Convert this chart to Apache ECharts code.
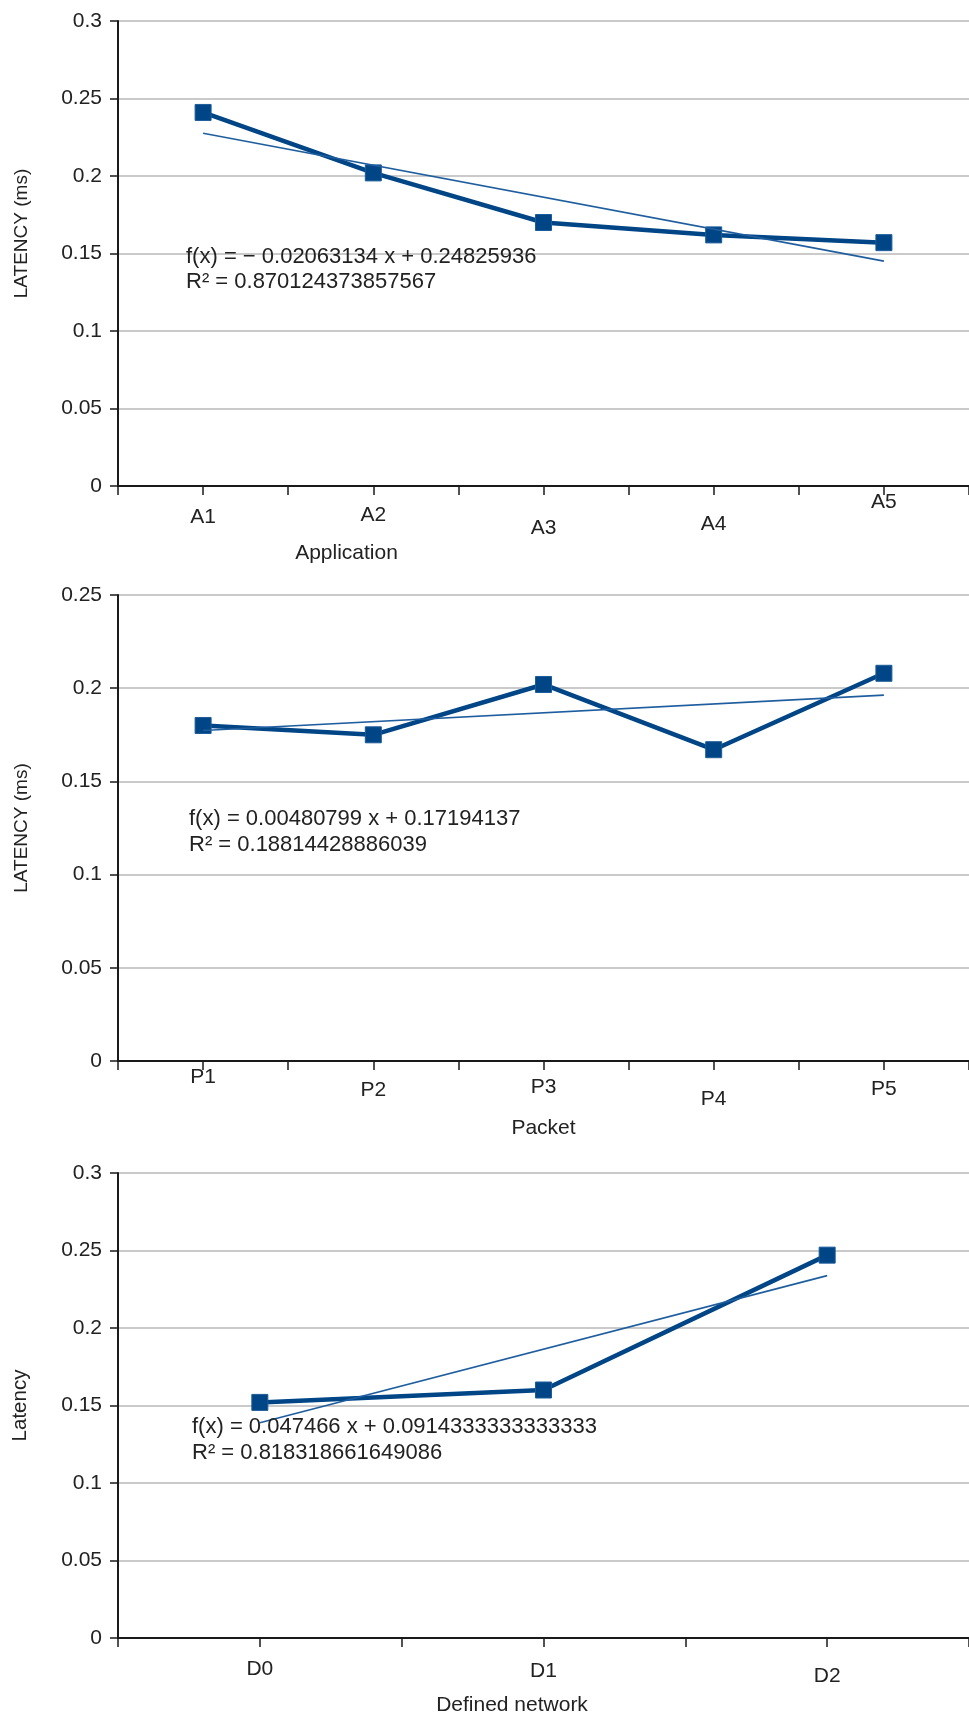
<!DOCTYPE html>
<html>
<head>
<meta charset="utf-8">
<script src="https://cdn.jsdelivr.net/npm/echarts@6/dist/echarts.min.js"></script>
<style>
html,body{margin:0;padding:0;background:#fff;}
#chart{width:969px;height:1717px;}
</style>
</head>
<body>
<div id="chart"></div>
<script>
// ---- data ----
const categoriesA = ['A1', 'A2', 'A3', 'A4', 'A5'];
const latencyA = [0.241, 0.202, 0.170, 0.162, 0.157];
const trendA = [0.2276, null, null, null, 0.1451];
const equationA = ['f(x) = \u2212 0.02063134 x + 0.24825936', 'R\u00b2 = 0.870124373857567'];

const categoriesP = ['P1', 'P2', 'P3', 'P4', 'P5'];
const latencyP = [0.180, 0.175, 0.202, 0.167, 0.208];
const trendP = [0.1773, null, null, null, 0.1963];
const equationP = ['f(x) = 0.00480799 x + 0.17194137', 'R\u00b2 = 0.18814428886039'];

const categoriesD = ['D0', 'D1', 'D2'];
const latencyD = [0.152, 0.160, 0.247];
const trendD = [0.1389, null, 0.2338];
const equationD = ['f(x) = 0.047466 x + 0.0914333333333333', 'R\u00b2 = 0.818318661649086'];

const yMaxA = 0.3, yMaxP = 0.25, yMaxD = 0.3, yStep = 0.05;

// ---- styles ----
const FONT = 'Liberation Sans';
const BLUE = '#004586';
const TXT = '#222';
const TICK_FS = 21;
const grids = [
  {left: 118, width: 859, top: 21, height: 465},
  {left: 118, width: 859, top: 595, height: 466},
  {left: 118, width: 859, top: 1173, height: 466}
];
const labelDrops = [
  [30, 26, 52, 44, 0],
  [0, 26, 20, 44, 24],
  [31, 35, 44]
];
const xNames = [
  {name: 'Application', shift: 394, gap: 57},
  {name: 'Packet', shift: 0, gap: 57},
  {name: 'Defined network', shift: 63, gap: 57}
];
const yNames = [
  {name: 'LATENCY (ms)', up: 20, fs: 19},
  {name: 'LATENCY (ms)', up: 0, fs: 19},
  {name: 'Latency', up: 0, fs: 20.5}
];

function richFor(drops) {
  const r = {};
  drops.forEach((d, i) => {
    r['o' + i] = {padding: [d, 0, 0, 0], fontSize: TICK_FS, lineHeight: 20, color: TXT, fontFamily: FONT};
  });
  return r;
}

const chart = echarts.init(document.getElementById('chart'));
const cats = [categoriesA, categoriesP, categoriesD];
const vals = [latencyA, latencyP, latencyD];
const trends = [trendA, trendP, trendD];
const maxes = [yMaxA, yMaxP, yMaxD];

const xAxis = [], yAxis = [], series = [];
for (let g = 0; g < 3; g++) {
  xAxis.push({
    type: 'category', gridIndex: g, data: cats[g], position: 'bottom',
    axisLine: {onZero: false, lineStyle: {color: '#1a1a1a', width: 2}},
    axisTick: {show: true, length: 9, lineStyle: {color: '#1a1a1a', width: 1.5}},
    axisLabel: {
      interval: 0, margin: 6, fontSize: TICK_FS, fontFamily: FONT, color: TXT,
      formatter: (v, i) => '{o' + i + '|' + v + '}',
      rich: richFor(labelDrops[g])
    },
    name: xNames[g].name, nameLocation: 'middle', nameGap: xNames[g].gap,
    nameTextStyle: {fontSize: TICK_FS, fontFamily: FONT, color: TXT, padding: [0, xNames[g].shift, 0, 0]},
    splitLine: {show: false}
  });
  xAxis.push({
    type: 'category', gridIndex: g, data: cats[g], position: 'bottom',
    axisLine: {show: false, onZero: false},
    axisTick: {show: true, alignWithLabel: true, length: 9, lineStyle: {color: '#1a1a1a', width: 1.5}},
    axisLabel: {show: false},
    splitLine: {show: false}
  });
  yAxis.push({
    type: 'value', gridIndex: g, min: 0, max: maxes[g], interval: yStep,
    axisLine: {show: true, lineStyle: {color: '#1a1a1a', width: 2}},
    axisTick: {show: true, length: 8, lineStyle: {color: '#1a1a1a', width: 1.5}},
    axisLabel: {margin: 16, fontSize: TICK_FS, fontFamily: FONT, color: TXT},
    splitLine: {show: true, lineStyle: {color: '#b8b8b8', width: 1.5}},
    name: yNames[g].name, nameLocation: 'middle', nameGap: 87, nameRotate: 90,
    nameTextStyle: {fontSize: yNames[g].fs, fontFamily: FONT, color: TXT, padding: [0, 0, 0, yNames[g].up * 2]}
  });
  series.push({
    type: 'line', xAxisIndex: g * 2, yAxisIndex: g, data: vals[g],
    symbol: 'rect', symbolSize: 16,
    lineStyle: {color: BLUE, width: 4.5},
    itemStyle: {color: BLUE, borderColor: '#1d5c99', borderWidth: 1},
    z: 3, animation: false
  });
  series.push({
    type: 'line', xAxisIndex: g * 2, yAxisIndex: g, data: trends[g],
    connectNulls: true, symbol: 'none',
    lineStyle: {color: '#1f5e9e', width: 1.6},
    z: 4, animation: false
  });
}

const eqs = [
  {lines: equationA, left: 186, top: 244},
  {lines: equationP, left: 189, top: 806.5},
  {lines: equationD, left: 192, top: 1414.5}
];

chart.setOption({
  animation: false,
  grid: grids,
  xAxis: xAxis,
  yAxis: yAxis,
  series: series,
  graphic: eqs.map(e => ({
    type: 'text', left: e.left, top: e.top, z: 10,
    style: {text: e.lines.join('\n'), fontSize: 22, fontFamily: FONT, lineHeight: 25.5, fill: TXT}
  }))
});
</script>
</body>
</html>
